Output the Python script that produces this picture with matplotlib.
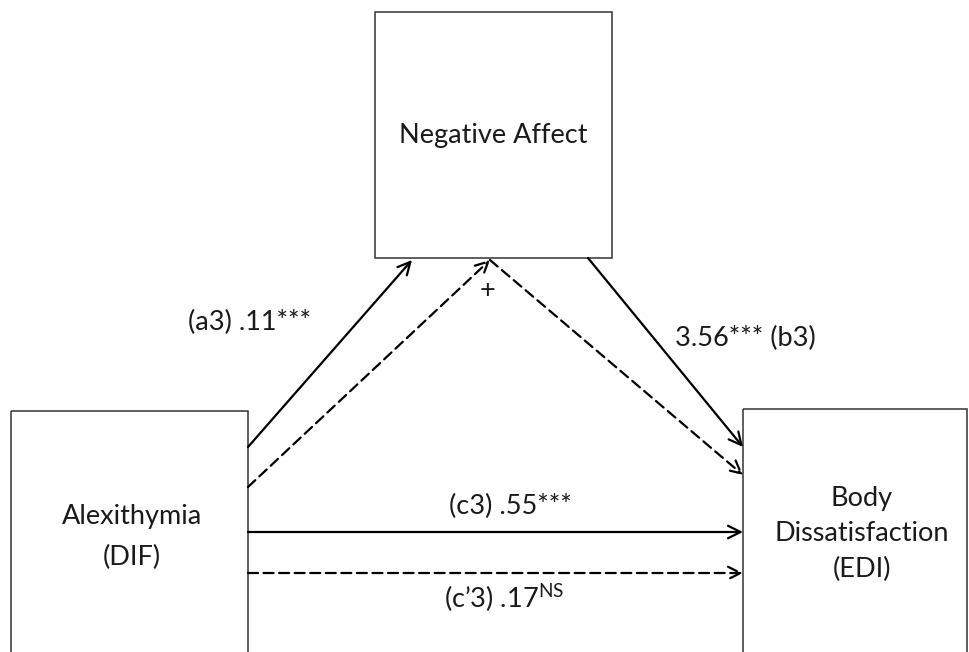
import matplotlib
matplotlib.use("Agg")
import matplotlib.pyplot as plt
from matplotlib.patches import Rectangle, FancyArrowPatch

plt.rcParams['font.family'] = ['Lato', 'DejaVu Sans']
plt.rcParams['mathtext.fontset'] = 'custom'
plt.rcParams['mathtext.rm'] = 'Lato'

# nodes of the mediation model
node_names = ["Negative Affect", "Alexithymia\n(DIF)", "Body\nDissatisfaction\n(EDI)"]
# box extents in pixel space: left, top, right, bottom
node_boxes = [(375, 12, 612, 258), (11, 411, 248, 700), (743, 409, 967, 700)]
node_text_pos = [(493, 135), (132, 537), (862, 534)]
node_linespacing = [1.2, 1.78, 1.54]

# paths: start, end, dashed?, label
path_start = [(248, 447), (248, 487), (588, 258), (490, 260), (248, 532), (248, 573)]
path_end = [(412, 260), (490, 260), (743, 447), (743, 475), (743, 532), (743, 573)]
path_dashed = [False, True, False, True, False, True]

path_labels = ["(a3) .11***", "+", "3.56*** (b3)", "(c3) .55***", "(c\u20193) .17$^{\\mathrm{NS}}$"]
label_pos = [(250, 322), (488, 291), (745, 338), (510, 506), (504, 598)]

fig = plt.figure(figsize=(9.69, 6.52), dpi=100)
ax = fig.add_axes([0, 0, 1, 1])
ax.set_xlim(0, 969)
ax.set_ylim(652, 0)
ax.axis('off')

txt_color = '#1a1a1a'
fs = 19.5

for name, (l, t, r, b), (tx, ty), ls in zip(node_names, node_boxes, node_text_pos, node_linespacing):
    ax.add_patch(Rectangle((l, t), r - l, b - t, fill=False, edgecolor='#333333', lw=1.1))
    ax.text(tx, ty, name, ha='center', va='center', fontsize=fs, color=txt_color,
            linespacing=ls, multialignment='center')

for s, e, dashed in zip(path_start, path_end, path_dashed):
    arr = FancyArrowPatch(s, e, arrowstyle='->,head_length=0.9,head_width=0.45',
                          mutation_scale=10, lw=1.6, color='black',
                          linestyle=(0, (4.5, 2.5)) if dashed else '-',
                          shrinkA=0, shrinkB=0)
    ax.add_patch(arr)

for lab, (lx, ly) in zip(path_labels, label_pos):
    ax.text(lx, ly, lab, ha='center', va='center', fontsize=fs, color=txt_color)

fig.savefig('out.png', dpi=100, facecolor='white')
